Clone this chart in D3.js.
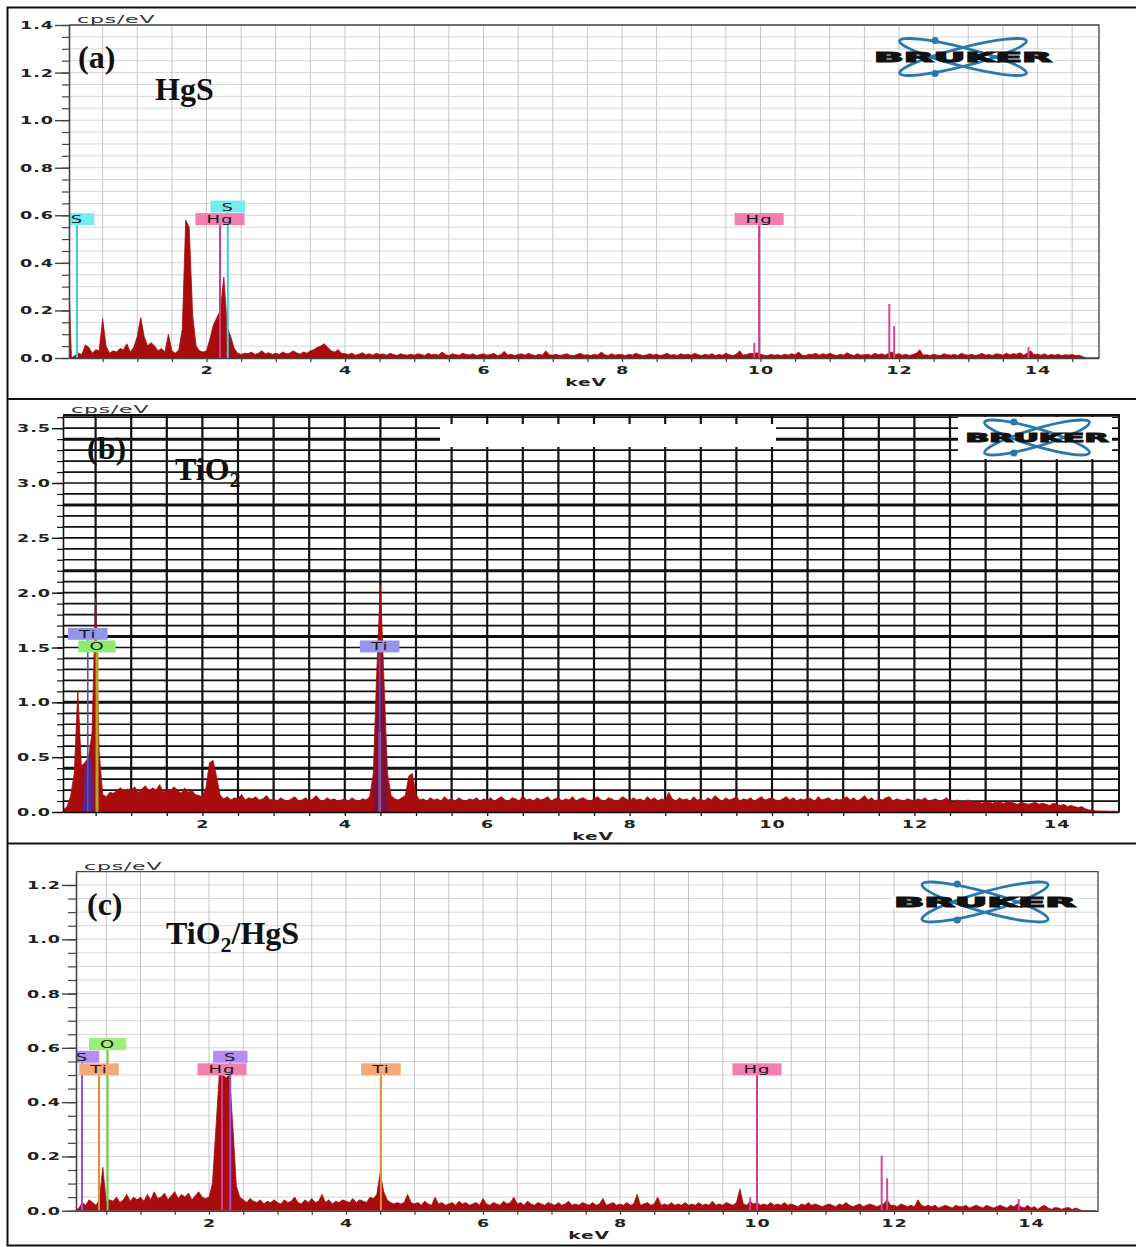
<!DOCTYPE html>
<html><head><meta charset="utf-8">
<script src="https://cdn.jsdelivr.net/npm/d3@7/dist/d3.min.js"></script>
<style>body{margin:0;background:#fff}svg{display:block}</style>
</head><body>
<svg id="chart" width="1136" height="1247"></svg>
<script>
// ================= DATA =================
const channelStart = 0;     // keV of first channel
const channelStep = 0.05;   // keV per channel
const xTickLabels = [2,4,6,8,10,12,14];

const yTicksA = [0,0.2,0.4,0.6,0.8,1.0,1.2,1.4];
const yTickLabelsA = ["0.0","0.2","0.4","0.6","0.8","1.0","1.2","1.4"];
const yTicksB = [0,0.5,1.0,1.5,2.0,2.5,3.0,3.5];
const yTickLabelsB = ["0.0","0.5","1.0","1.5","2.0","2.5","3.0","3.5"];
const yTicksC = [0,0.2,0.4,0.6,0.8,1.0,1.2];
const yTickLabelsC = ["0.0","0.2","0.4","0.6","0.8","1.0","1.2"];

// (a) HgS spectrum, cps/eV per 0.05 keV channel
const spectrumA = [
 .42,0,.01,.02,.015,.055,.045,.02,.035,.03,.165,.05,.02,.03,.025,.04,.035,.06,.025,.045,
 .09,.17,.09,.05,.065,.05,.03,.04,.025,.10,.03,.02,.035,.12,.58,.55,.18,.05,.03,.025,
 .03,.08,.14,.17,.20,.34,.13,.09,.04,.02,.015,.02,.018,.025,.015,.02,.03,.018,.022,.015,
 .02,.015,.025,.018,.02,.03,.022,.016,.025,.02,.03,.035,.045,.05,.06,.045,.03,.025,.035,.02,
 .018,.015,.02,.012,.016,.022,.014,.018,.012,.02,.015,.017,.012,.02,.015,.01,.018,.014,.012,.016,
 .012,.018,.015,.01,.02,.014,.016,.012,.025,.015,.01,.018,.014,.012,.02,.015,.013,.018,.01,.015,
 .018,.012,.015,.02,.01,.014,.028,.012,.016,.01,.015,.018,.012,.02,.014,.01,.016,.012,.03,.014,
 .012,.016,.01,.014,.018,.012,.01,.015,.02,.012,.014,.01,.016,.012,.025,.014,.01,.018,.012,.015,
 .014,.01,.016,.012,.02,.015,.01,.013,.018,.012,.016,.01,.014,.02,.012,.015,.01,.018,.013,.016,
 .012,.02,.014,.01,.016,.012,.018,.01,.015,.012,.02,.014,.01,.016,.03,.012,.015,.02,.018,.022,
 .016,.012,.01,.015,.012,.014,.01,.016,.012,.018,.014,.025,.012,.01,.016,.015,.02,.012,.018,.014,
 .02,.014,.01,.016,.012,.022,.015,.01,.018,.012,.014,.016,.01,.02,.014,.018,.012,.02,.025,.015,
 .018,.012,.016,.01,.015,.02,.035,.012,.014,.01,.016,.012,.01,.018,.014,.012,.016,.01,.02,.014,
 .012,.016,.01,.014,.02,.012,.015,.01,.018,.016,.012,.02,.014,.018,.016,.022,.012,.02,.03,.014,
 .016,.012,.018,.01,.015,.012,.016,.01,.014,.012,.015,.01,.012,.006,0,0,0,0,0
];
// (b) TiO2 spectrum
const spectrumB = [
 0,.02,.05,.15,.35,1.10,.42,.45,.50,.72,1.95,.55,.16,.14,.18,.17,.2,.22,.19,.21,
 .2,.23,.18,.21,.24,.19,.22,.2,.25,.18,.21,.19,.23,.2,.17,.22,.18,.2,.16,.15,
 .14,.22,.45,.47,.32,.15,.12,.14,.11,.13,.12,.16,.11,.13,.12,.14,.11,.12,.15,.11,
 .12,.1,.13,.11,.1,.12,.14,.1,.11,.13,.1,.12,.15,.11,.1,.13,.11,.12,.1,.11,
 .12,.1,.13,.11,.1,.12,.11,.14,.35,1.3,2.07,1.2,.35,.15,.12,.11,.13,.15,.33,.35,
 .16,.11,.12,.1,.13,.11,.12,.1,.14,.11,.12,.1,.13,.11,.1,.12,.11,.13,.1,.12,
 .11,.13,.1,.12,.14,.11,.1,.13,.12,.1,.15,.11,.12,.1,.13,.11,.12,.14,.1,.12,
 .13,.1,.12,.11,.14,.1,.12,.13,.11,.1,.12,.14,.11,.1,.13,.12,.1,.11,.14,.12,
 .1,.13,.11,.12,.1,.14,.11,.13,.1,.12,.11,.18,.12,.1,.13,.11,.12,.1,.14,.11,
 .12,.1,.13,.11,.15,.12,.1,.13,.11,.12,.14,.1,.12,.11,.13,.1,.12,.14,.11,.12,
 .13,.11,.1,.12,.14,.11,.13,.1,.12,.11,.13,.12,.1,.14,.11,.12,.13,.1,.12,.11,
 .12,.14,.11,.13,.1,.12,.15,.11,.13,.1,.12,.11,.13,.14,.1,.12,.11,.1,.12,.11,
 .1,.12,.11,.13,.1,.11,.12,.1,.11,.13,.1,.09,.11,.1,.09,.11,.1,.09,.1,.08,
 .1,.09,.08,.1,.09,.08,.09,.1,.08,.07,.09,.08,.07,.08,.09,.07,.08,.07,.06,.08,
 .07,.06,.07,.05,.06,.05,.04,.05,.03,.02,.015,.01,.01,.008,.01,.006,.008,.005,.004
];
// (c) TiO2/HgS spectrum
const spectrumC = [
 0,0,.01,.03,.02,.04,.03,.02,.04,.16,.03,.04,.035,.05,.03,.04,.06,.035,.05,.04,
 .05,.035,.06,.04,.07,.045,.05,.065,.04,.055,.07,.045,.06,.05,.065,.04,.055,.07,.05,.045,
 .05,.1,.3,.5,.5,.49,.5,.3,.09,.05,.04,.03,.045,.035,.03,.04,.025,.035,.03,.04,
 .03,.025,.04,.03,.035,.05,.03,.025,.04,.03,.045,.03,.035,.06,.03,.04,.025,.035,.03,.04,
 .035,.03,.045,.03,.04,.035,.03,.05,.045,.06,.14,.07,.04,.03,.025,.03,.025,.03,.06,.03,
 .025,.03,.02,.035,.025,.02,.05,.025,.03,.02,.025,.03,.02,.035,.025,.03,.02,.025,.03,.02,
 .045,.025,.02,.03,.025,.02,.035,.025,.03,.05,.025,.03,.02,.035,.025,.02,.03,.025,.02,.03,
 .025,.02,.03,.02,.025,.035,.02,.025,.02,.03,.025,.02,.03,.02,.025,.045,.02,.025,.03,.02,
 .025,.02,.03,.02,.025,.06,.02,.025,.03,.02,.025,.05,.02,.025,.02,.03,.02,.025,.02,.03,
 .02,.025,.02,.03,.02,.025,.02,.035,.02,.025,.02,.03,.025,.02,.03,.08,.025,.02,.035,.025,
 .03,.02,.025,.02,.03,.02,.025,.02,.03,.02,.025,.02,.015,.025,.02,.03,.02,.025,.02,.015,
 .02,.025,.02,.015,.025,.02,.03,.02,.015,.02,.025,.015,.02,.025,.02,.015,.02,.025,.04,.02,
 .02,.015,.025,.02,.015,.02,.015,.04,.02,.015,.02,.015,.02,.01,.015,.02,.015,.01,.02,.015,
 .015,.02,.01,.015,.02,.015,.01,.02,.015,.01,.015,.02,.015,.01,.02,.015,.025,.015,.01,.02,
 .01,.015,.005,.015,.02,.01,.005,.012,.01,.005,.01,.012,.004,.01,.005,0,0,0,0,0
];

// element markers (label order = placement order)
const markerElementsA = ["Hg","Hg","S","S"];
const markerEnergiesA = [2.195, 9.98, 0.13, 2.307];
const markerElementsB = ["O","Ti","Ti"];
const markerEnergiesB = [0.52, 0.39, 4.49];
const markerElementsC = ["Ti","Ti","Hg","Hg","S","S","O"];
const markerEnergiesC = [0.394, 4.51, 2.19, 10.0, 0.146, 2.31, 0.52];

// thin coloured peak lines
const peakLineEnergiesA = [0.01, 9.91, 11.86, 11.93, 13.87];
const peakLineHeightsA = [0.42, 0.063, 0.227, 0.134, 0.046];
const peakLineEnergiesB = [4.49];
const peakLineHeightsB = [0.73];
const peakLineEnergiesC = [9.9, 11.82, 11.9, 13.82];
const peakLineHeightsC = [0.05, 0.203, 0.12, 0.043];

// fitted Ti contributions in (b)
const tiLFitEnergyB = [0.31, 0.35, 0.40, 0.45, 0.47];
const tiLFitValueB  = [0, 0.42, 0.48, 0.5, 0];
const tiKFitEnergyB = [4.40, 4.45, 4.50, 4.55, 4.60];
const tiKFitValueB  = [0, 1.0, 1.45, 0.9, 0];

// ================= DRAWING =================
const svg = d3.select("#chart");
const defs = svg.append("defs");
const SPEC = "#a80c0c";

svg.append("path")
  .attr("d","M1136,7.5H7.5V1245.5H1136M7.5,399H1136M7.5,843.5H1136")
  .attr("fill","none").attr("stroke","#111").attr("stroke-width",2);

function sText(g, x, y, str, o) {
  return g.append("text")
    .attr("transform", `translate(${x},${y}) scale(${o.sx||1.5},1)`)
    .attr("font-family", o.family || "DejaVu Sans")
    .attr("font-size", o.size || 11)
    .attr("font-weight", o.weight || "normal")
    .attr("letter-spacing", o.ls == null ? 1 : o.ls)
    .attr("text-anchor", o.anchor || "start")
    .attr("fill", o.fill || "#222")
    .text(str);
}

const panels = [
 { id:"a", left:69, right:1099, top:25, bottom:358, x0:68, kpx:69.25, yMax:1.4,
   yTicks:yTicksA, yLabels:yTickLabelsA, minorStep:0.05, gridStep:0.05,
   majorTick:14, minorTick:7, dark:false,
   spectrum:spectrumA, mEl:markerElementsA, mE:markerEnergiesA,
   pE:peakLineEnergiesA, pH:peakLineHeightsA, pColor:"#d8449a",
   styles:{ S:{box:"#72eef2",line:"#3ccbe0",w:2}, Hg:{box:"#f27fb0",line:"#d23c8c",w:2} } },
 { id:"b", left:63, right:1119, top:415, bottom:812, x0:60, kpx:71.2, yMax:3.62,
   yTicks:yTicksB, yLabels:yTickLabelsB, minorStep:0.1, gridStep:0.1,
   majorTick:11, minorTick:6, dark:true,
   spectrum:spectrumB, mEl:markerElementsB, mE:markerEnergiesB,
   pE:peakLineEnergiesB, pH:peakLineHeightsB, pColor:"#f3a9c6",
   styles:{ Ti:{box:"#9595ee",line:"#5a52c8",w:1.6}, O:{box:"#8eea70",line:"#b5a52a",w:3} } },
 { id:"c", left:76, right:1098, top:871.7, bottom:1210.7, x0:72, kpx:68.5, yMax:1.249,
   yTicks:yTicksC, yLabels:yTickLabelsC, minorStep:0.05, gridStep:0.05,
   majorTick:14, minorTick:8, dark:false,
   spectrum:spectrumC, mEl:markerElementsC, mE:markerEnergiesC,
   pE:peakLineEnergiesC, pH:peakLineHeightsC, pColor:"#d8449a",
   styles:{ S:{box:"#b58cf2",line:"#9a4fe0",w:2}, Ti:{box:"#f6a878",line:"#e68a3c",w:2},
            O:{box:"#9cee78",line:"#6cd43c",w:2}, Hg:{box:"#f27fb0",line:"#d23c8c",w:2} } }
];

function drawPanel(p) {
  const x = d3.scaleLinear().domain([(p.left-p.x0)/p.kpx, (p.right-p.x0)/p.kpx]).range([p.left,p.right]);
  const y = d3.scaleLinear().domain([0,p.yMax]).range([p.bottom,p.top]);
  const g = svg.append("g");
  const clip = "clip-"+p.id;
  defs.append("clipPath").attr("id",clip).append("rect")
    .attr("x",p.left).attr("y",p.top-0.5).attr("width",p.right-p.left).attr("height",p.bottom-p.top+0.5);
  const cg = g.append("g").attr("clip-path",`url(#${clip})`);

  // grid
  const vGrid = d3.range(0.5, x.domain()[1], 0.5);
  const nH = Math.floor(p.yMax/p.gridStep + 1e-6);
  const hGrid = d3.range(1, nH+1).map(k => +(k*p.gridStep).toFixed(3));
  cg.append("g").selectAll("line").data(hGrid).join("line")
    .attr("x1",p.left).attr("x2",p.right).attr("y1",d=>y(d)).attr("y2",d=>y(d))
    .attr("stroke", p.dark ? "#111" : "#d6d6d6")
    .attr("stroke-width", d => p.dark ? ((Math.abs(((d-0.4)/0.6) - Math.round((d-0.4)/0.6))<1e-6) ? 3 : 1.7) : 1);
  cg.append("g").selectAll("line").data(vGrid).join("line")
    .attr("x1",d=>x(d)).attr("x2",d=>x(d)).attr("y1",p.top).attr("y2",p.bottom)
    .attr("stroke", p.dark ? "#111" : "#c6c6c6").attr("stroke-width", p.dark ? 2.2 : 1);

  if (p.id === "b") {
    g.append("rect").attr("x",440).attr("y",424).attr("width",336).attr("height",23).attr("fill","#fff");
  }

  // spectrum
  const area = d3.area().x((d,i)=>x(channelStart+i*channelStep)).y0(y(0)).y1(d=>y(d));
  cg.append("path").datum(p.spectrum).attr("d",area)
    .attr("fill",SPEC).attr("stroke",SPEC).attr("stroke-width",0.8).attr("stroke-linejoin","round");

  if (p.id === "b") {
    const fitArea = d3.area().x(d=>x(d[0])).y0(y(0)).y1(d=>y(d[1]));
    cg.append("path").datum(d3.zip(tiLFitEnergyB,tiLFitValueB)).attr("d",fitArea).attr("fill","#4a2a9a").attr("opacity",0.85);
    cg.append("path").datum(d3.zip(tiKFitEnergyB,tiKFitValueB)).attr("d",fitArea).attr("fill","#6a1450").attr("opacity",0.8);
  }

  // peak lines
  cg.append("g").selectAll("line").data(d3.zip(p.pE,p.pH)).join("line")
    .attr("x1",d=>x(d[0])).attr("x2",d=>x(d[0])).attr("y1",y(0)).attr("y2",d=>y(d[1]))
    .attr("stroke",(d,i)=> (p.id==="a" && i===0) ? SPEC : p.pColor).attr("stroke-width",2);

  // marker labels
  const row0 = p.bottom - 0.417*(p.bottom-p.top);
  const rowH = 12.6, boxH = 12;
  const placed = [];
  const meas = svg.append("g");
  p.mEl.forEach((el,i) => {
    const cx = x(p.mE[i]);
    const t = sText(meas,0,0,el,{size:10,ls:0.6,sx:1.8});
    const w = t.node().getComputedTextLength()*1.8 + 22;
    let row = 0;
    while (placed.some(q => q.row===row && Math.abs(q.cx-cx) < (q.w+w)/2 - 0.5)) row++;
    placed.push({el,cx,w,row});
  });
  meas.remove();
  const lg = g.append("g").attr("clip-path",`url(#${clip})`);
  placed.forEach(q => {
    const st = p.styles[q.el];
    const cy = row0 - q.row*rowH;
    lg.append("line").attr("x1",q.cx).attr("x2",q.cx).attr("y1",cy+boxH/2).attr("y2",y(0))
      .attr("stroke",st.line).attr("stroke-width",st.w);
  });
  placed.forEach(q => {
    const st = p.styles[q.el];
    const cy = row0 - q.row*rowH;
    lg.append("rect").attr("x",q.cx-q.w/2).attr("y",cy-boxH/2).attr("width",q.w).attr("height",boxH)
      .attr("fill",st.box);
    sText(lg,q.cx,cy+4,q.el,{size:10,ls:0.6,sx:1.8,anchor:"middle",fill:"#1a1a1a"});
  });

  const axisColor = p.dark ? "#111" : "#444";
  g.append("path").attr("d",`M${p.left},${p.top}H${p.right}V${p.bottom}`)
    .attr("fill","none").attr("stroke",axisColor).attr("stroke-width",p.dark?2:1.3);

  // y axis
  const minor = d3.range(0, p.yMax+1e-6, p.minorStep).map(v=>+v.toFixed(3));
  const ym = g.append("g").attr("transform",`translate(${p.left},0)`)
    .call(d3.axisLeft(y).tickValues(minor).tickSize(p.minorTick).tickFormat(""));
  ym.select(".domain").remove();
  ym.selectAll(".tick line").attr("stroke",axisColor).attr("stroke-width",1.2);
  const ya = g.append("g").attr("transform",`translate(${p.left},0)`)
    .call(d3.axisLeft(y).tickValues(p.yTicks).tickFormat((d,i)=>p.yLabels[i]).tickSize(p.majorTick).tickSizeOuter(0));
  ya.select(".domain").attr("stroke",axisColor).attr("stroke-width",1.6);
  ya.selectAll(".tick line").attr("stroke",axisColor).attr("stroke-width",1.4);
  ya.selectAll(".tick text").attr("x", -(p.majorTick+1)/1.6).attr("transform","scale(1.6,1)")
    .attr("font-family","DejaVu Sans").attr("font-weight","bold").attr("font-size",11)
    .attr("letter-spacing",0.6).attr("fill","#222");

  // x axis
  const xt = d3.range(0.5, x.domain()[1], 0.5);
  const xa = g.append("g").attr("transform",`translate(0,${p.bottom})`)
    .call(d3.axisBottom(x).tickValues(xt).tickSize(4).tickSizeOuter(0)
      .tickFormat(d => xTickLabels.includes(d) ? String(d) : ""));
  xa.select(".domain").attr("stroke",axisColor).attr("stroke-width",1.6);
  xa.selectAll(".tick line").attr("stroke",axisColor).attr("stroke-width",1.3);
  xa.selectAll(".tick text").attr("y",16).attr("dy",0).attr("transform","scale(1.6,1)")
    .attr("font-family","DejaVu Sans").attr("font-weight","bold").attr("font-size",11)
    .attr("letter-spacing",0.6).attr("fill","#222");

  sText(g,(p.left+p.right)/2+2,p.bottom+28,"keV",{size:11,weight:"bold",anchor:"middle",sx:1.7,ls:0.5});
  sText(g,p.left+8,p.top-2,"cps/eV",{size:11,ls:0.4,sx:2.0,fill:"#333"});
  return {x,y,g};
}

panels.forEach(drawPanel);

// titles
function title(x, y, parts) {
  const t = svg.append("text").attr("x",x).attr("y",y)
    .attr("font-family","Liberation Serif").attr("font-weight","bold").attr("fill","#111");
  parts.forEach(pt => {
    t.append("tspan").attr("font-size",pt.sub?22:32).attr("dy",pt.dy||0).text(pt.s);
  });
}
title(78,68,[{s:"(a)"}]);
title(155,100,[{s:"HgS"}]);
title(87,459,[{s:"(b)"}]);
title(175,480,[{s:"TiO"},{s:"2",sub:true,dy:7}]);
title(87,915,[{s:"(c)"}]);
title(166,944,[{s:"TiO"},{s:"2",sub:true,dy:8},{s:"/HgS",dy:-8}]);

// Bruker logos
function logo(cx, cy, ellW, ellH, textW, textH, box) {
  const g = svg.append("g");
  if (box) g.append("rect").attr("x",box[0]).attr("y",box[1]).attr("width",box[2]).attr("height",box[3]).attr("fill","#fff");
  g.append("rect").attr("x",cx-textW/2-2).attr("y",cy-textH/2-1.5).attr("width",textW+4).attr("height",textH+3).attr("fill","#fff");
  const W = ellW/2, H = ellH/2, ry = H*0.5;
  const rx = Math.sqrt(W*W + H*H - ry*ry);
  const th = Math.asin(Math.sqrt((H*H-ry*ry)/(rx*rx-ry*ry)))*180/Math.PI;
  [th,-th].forEach(a => g.append("ellipse").attr("cx",cx).attr("cy",cy).attr("rx",rx).attr("ry",ry)
    .attr("transform",`rotate(${a},${cx},${cy})`).attr("fill","none").attr("stroke","#2a78b0").attr("stroke-width",2.8));
  g.append("circle").attr("cx",cx-0.22*ellW).attr("cy",cy-H+2).attr("r",3.6).attr("fill","#2a78b0");
  g.append("circle").attr("cx",cx-0.22*ellW).attr("cy",cy+H-2).attr("r",3.6).attr("fill","#2a78b0");
  g.append("text").attr("x",cx-textW/2).attr("y",cy+textH/2)
    .attr("textLength",textW).attr("lengthAdjust","spacingAndGlyphs")
    .attr("font-family","DejaVu Sans").attr("font-weight","bold").attr("font-size",textH/0.73)
    .attr("fill","#111").attr("stroke","#111").attr("stroke-width",1.1).text("BRUKER");
}
logo(963,57,127,37,178,10,null);
logo(1037,437.5,105,35,143,9,[958,417,154,42]);
logo(985,902,126,40,182,10,null);
</script>
</body></html>
